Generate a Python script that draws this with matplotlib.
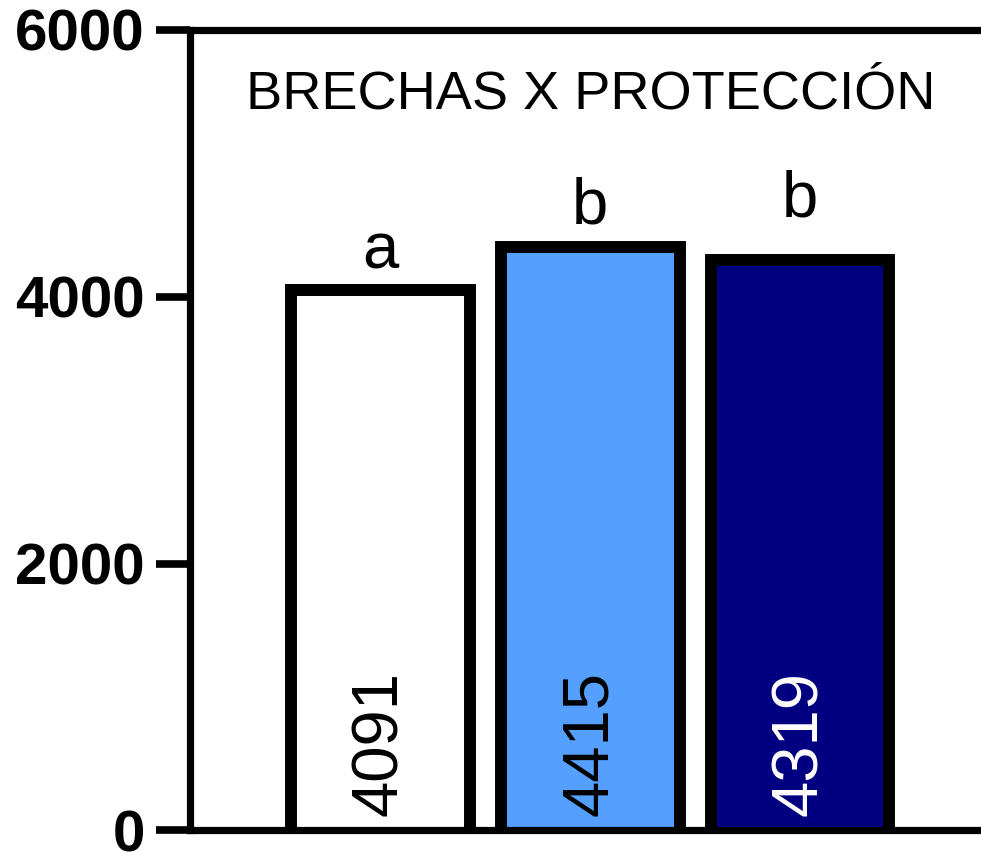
import matplotlib
matplotlib.use("Agg")
import matplotlib.pyplot as plt
from matplotlib.transforms import ScaledTranslation

plt.rcParams['font.family'] = ['Liberation Sans', 'DejaVu Sans']

# datos
grupos = ['grupo 1', 'grupo 2', 'grupo 3']
brechas = [4091, 4415, 4319]
letras = ['a', 'b', 'b']
colores = ['white', '#559fff', '#000080']
color_texto = ['black', 'black', 'white']
yticks = [0, 2000, 4000, 6000]

# separacion de las letras sobre la barra (pt)
sep_letras = [11.5, 13, 27]

fig = plt.figure(figsize=(9.81, 8.56), dpi=100)
ax = fig.add_axes([0.1937, 0.0298, 1 - 0.1937, 0.9357])

x = list(range(len(grupos)))
barras = ax.bar(x, brechas, width=0.853, color=colores, edgecolor='black',
                linewidth=8.6, zorder=1)
# el borde queda por dentro de la barra (como en Prism)
desplaza = ScaledTranslation(0, -4.3 / 72, fig.dpi_scale_trans)
for b in barras:
    b.set_transform(ax.transData + desplaza)

for i, v in enumerate(brechas):
    ax.annotate(str(v), (x[i], 0), xytext=(0, 10.5), textcoords='offset points',
                rotation=90, ha='center', va='bottom', fontsize=47,
                color=color_texto[i])
    ax.annotate(letras[i], (x[i], v), xytext=(0, sep_letras[i]),
                textcoords='offset points', ha='center', va='baseline',
                fontsize=47)

ax.text(1, 0.9008, 'BRECHAS X PROTECCIÓN', transform=ax.get_xaxis_transform(),
        ha='center', va='baseline', fontsize=39)

ax.set_xlim(-0.908, 2.863)
ax.set_ylim(0, 6000)
ax.set_yticks(yticks)
ax.set_yticklabels([str(t) for t in yticks], fontsize=42, fontweight='bold')
ax.set_xticks([])
ax.tick_params(axis='y', length=24.5, width=5.5, pad=8, direction='out')

for s in ['left', 'top', 'bottom']:
    ax.spines[s].set_linewidth(5.2)
    ax.spines[s].set_zorder(3)
ax.spines['right'].set_visible(False)

plt.savefig('out.png', dpi=100)
